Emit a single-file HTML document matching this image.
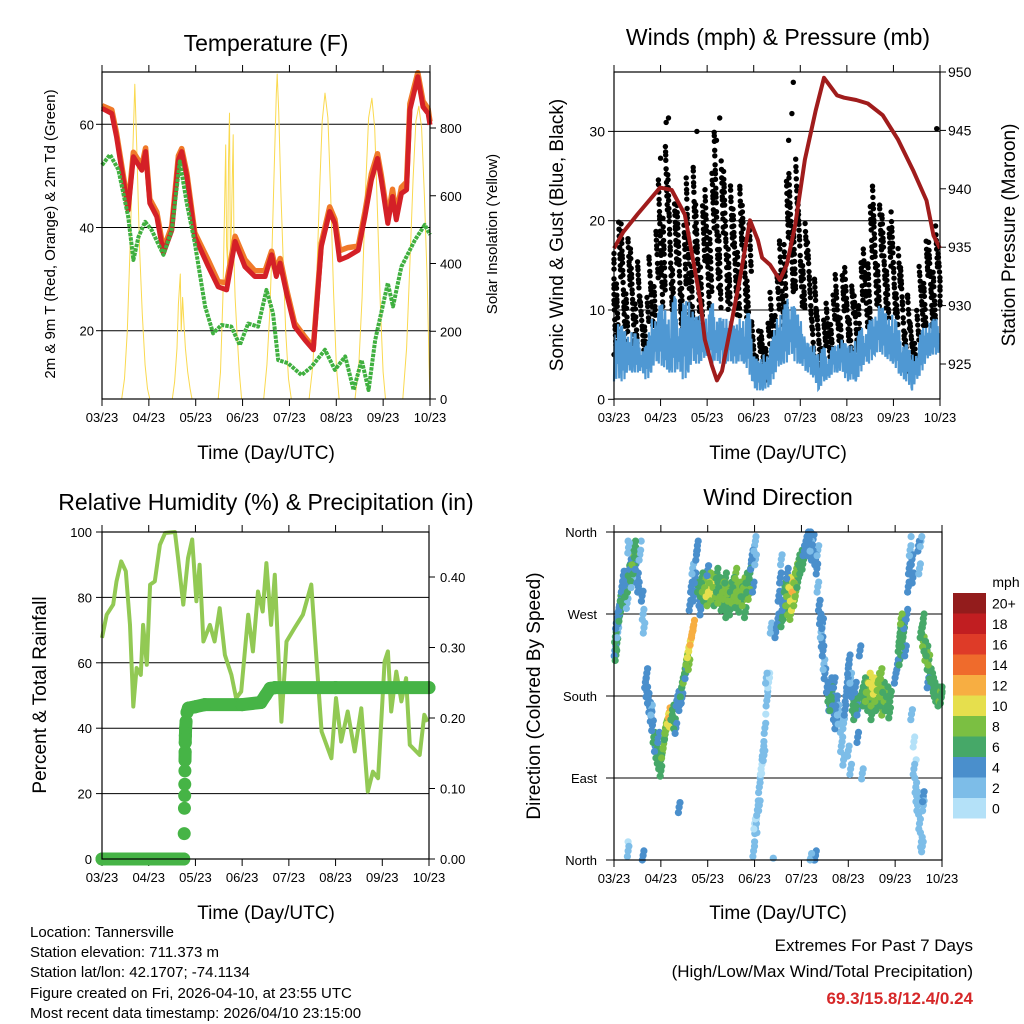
<!DOCTYPE html>
<html><head><meta charset="utf-8"><style>
html,body{margin:0;padding:0;background:#fff}
svg{display:block;font-family:"Liberation Sans",sans-serif}
</style></head><body>
<svg id="fig" width="1024" height="1024" viewBox="0 0 1024 1024" xmlns="http://www.w3.org/2000/svg">
<rect width="1024" height="1024" fill="#fff"/>
<text x="266" y="51" font-size="23" text-anchor="middle">Temperature (F)</text>
<text x="778" y="45" font-size="23" text-anchor="middle">Winds (mph) &amp; Pressure (mb)</text>
<text x="266" y="510" font-size="23" text-anchor="middle">Relative Humidity (%) &amp; Precipitation (in)</text>
<text x="778" y="505" font-size="23" text-anchor="middle">Wind Direction</text>
<text transform="translate(55,234) rotate(-90)" font-size="15" text-anchor="middle">2m &amp; 9m T (Red, Orange) &amp; 2m Td (Green)</text>
<text transform="translate(497,234) rotate(-90)" font-size="15" text-anchor="middle">Solar Insolation (Yellow)</text>
<text transform="translate(563,235) rotate(-90)" font-size="19" text-anchor="middle">Sonic Wind &amp; Gust (Blue, Black)</text>
<text transform="translate(1015,235) rotate(-90)" font-size="19" text-anchor="middle">Station Pressure (Maroon)</text>
<text transform="translate(46,695) rotate(-90)" font-size="19" text-anchor="middle">Percent &amp; Total Rainfall</text>
<text transform="translate(540,696) rotate(-90)" font-size="19" text-anchor="middle">Direction (Colored By Speed)</text>
<text x="266" y="459" font-size="19" text-anchor="middle">Time (Day/UTC)</text>
<text x="778" y="459" font-size="19" text-anchor="middle">Time (Day/UTC)</text>
<text x="266" y="919" font-size="19" text-anchor="middle">Time (Day/UTC)</text>
<text x="778" y="919" font-size="19" text-anchor="middle">Time (Day/UTC)</text>
<g font-size="15">
<text x="30" y="937">Location: Tannersville</text>
<text x="30" y="957">Station elevation: 711.373 m</text>
<text x="30" y="977">Station lat/lon: 42.1707; -74.1134</text>
<text x="30" y="998">Figure created on Fri, 2026-04-10, at 23:55 UTC</text>
<text x="30" y="1018">Most recent data timestamp: 2026/04/10 23:15:00</text>
</g>
<text x="973" y="951" font-size="17" text-anchor="end">Extremes For Past 7 Days</text>
<text x="973" y="977" font-size="17" text-anchor="end">(High/Low/Max Wind/Total Precipitation)</text>
<text x="973" y="1004" font-size="17" font-weight="bold" fill="#d62728" text-anchor="end">69.3/15.8/12.4/0.24</text>
<text x="1006" y="587" font-size="14" text-anchor="middle">mph</text>
</svg>
<script>
const xTickLabels=["03/23","04/23","05/23","06/23","07/23","08/23","09/23","10/23"];
const tempTimes=[0,0.21,0.31,0.42,0.56,0.67,0.85,0.93,1.02,1.17,1.31,1.49,1.63,1.70,1.81,1.98,2.27,2.48,2.66,2.84,3.05,3.26,3.48,3.62,3.72,3.80,3.94,4.11,4.33,4.51,4.68,4.86,4.97,5.07,5.25,5.47,5.61,5.75,5.88,5.96,6.10,6.20,6.28,6.39,6.50,6.57,6.74,6.85,6.96,7.0];
const temp9m=[63.1,62.1,57.6,51.2,43.4,53.7,51.1,54.7,44.7,42.1,35.0,39.5,53.1,54.7,49.9,38.2,32.4,28.5,27.9,37.3,32.4,30.5,30.5,34.7,30.5,33.1,27.2,20.8,18.2,16.3,36.3,43.1,40.8,33.7,34.4,35.6,42.1,49.2,53.4,49.2,40.8,46.0,41.5,46.6,47.3,62.8,69.2,63.4,62.1,59.9];
const temp2m=[63.6,62.8,58.3,52.0,44.2,54.6,52.0,55.4,45.5,43.0,35.8,40.3,53.9,55.3,50.6,39.0,33.6,29.5,29.3,38.3,33.8,31.6,31.6,35.4,31.5,34.0,28.0,21.5,18.8,16.8,37.0,44.0,41.6,35.5,36.1,36.4,43.0,50.4,54.3,50.1,41.8,47.4,42.4,47.8,48.8,64.0,70.0,64.5,63.0,60.5];
const dewTimes=[0,0.17,0.35,0.56,0.67,0.78,0.92,1.06,1.31,1.49,1.66,1.81,1.98,2.20,2.37,2.55,2.76,2.94,3.12,3.33,3.51,3.65,3.76,3.97,4.26,4.47,4.76,4.97,5.19,5.37,5.54,5.69,5.83,6.10,6.21,6.39,6.68,6.89,7.0];
const dewVals=[52.1,54.1,51.2,42.1,33.7,38.2,41.1,39.5,34.7,39.5,52.8,44.7,37.0,24.7,19.5,21.1,20.8,17.2,21.4,20.8,27.9,23.4,14.3,13.7,11.4,13.0,16.3,12.4,15.0,8.5,14.3,8.5,18.2,29.2,24.7,32.4,37.6,40.5,38.6];
const solarTimes=[0.42,0.48,0.54,0.6,0.65,0.7,0.74,0.8,0.86,0.92,0.97,1.02,
1.5,1.55,1.6,1.63,1.67,1.69,1.72,1.75,1.78,1.83,1.88,1.92,
2.48,2.53,2.58,2.62,2.64,2.66,2.68,2.7,2.72,2.74,2.76,2.78,2.8,2.82,2.84,2.88,2.93,2.98,
3.45,3.52,3.58,3.63,3.68,3.72,3.74,3.77,3.82,3.87,3.92,3.98,4.04,
4.42,4.5,4.57,4.64,4.7,4.76,4.82,4.88,4.94,5.0,5.06,
5.4,5.48,5.55,5.62,5.69,5.76,5.82,5.88,5.94,6.0,6.05,
6.42,6.5,6.57,6.64,6.7,6.76,6.82,6.88,6.94,6.98,7.0];
const solarVals=[0,60,200,450,700,929,750,450,250,100,30,0,
0,50,150,280,369,200,300,220,150,80,30,0,
0,80,300,600,750,450,400,700,844,400,500,650,780,400,300,200,80,0,
0,100,250,450,700,900,959,850,600,400,200,60,0,
0,100,300,600,820,903,830,600,320,100,0,
0,100,300,600,830,888,800,550,280,80,0,
0,150,400,650,820,864,800,600,350,100,0];
const windTicks=[0,10,20,30];
const pressTicks=[925,930,935,940,945,950];
const pressTimes=[0,0.2,0.5,0.99,1.24,1.52,1.74,1.85,1.95,2.1,2.21,2.32,2.49,2.7,2.92,3.09,3.18,3.35,3.56,3.71,3.89,4.1,4.33,4.51,4.79,4.94,5.2,5.45,5.77,6.1,6.42,6.71,6.86,7.0];
const pressVals=[934.9,936.3,937.8,940.1,939.9,937.8,933.0,930.5,927.1,924.9,923.6,924.4,927.9,932.2,937.3,935.6,934.1,933.5,932.2,933.5,936.9,942.5,946.7,949.5,948.0,947.8,947.6,947.3,946.3,944.2,941.6,939.0,936.0,934.9];
const gustMin=[5,6,5,7,5,6,5,5,7,8,10,12,10,8,8,5,6,7,8,9,10,12,12,10,10,10,9,9,9,8,2,2,2,3,4,6,8,10,12,12,10,10,8,4,3,3,4,5,5,5,6,5,4,5,8,9,10,10,10,9,9,8,5,3,3,3,8,8,8,9,10];
const gustMax=[17,20,20,18,17,16,12,12,16,19,25,29,26,22,22,20,25,26,22,22,24,26,30,27,26,24,22,24,22,20,9,8,8,9,12,14,18,25,26,27,22,20,18,14,10,9,11,12,14,14,15,13,12,16,17,22,24,22,21,20,21,17,15,12,9,10,15,18,18,20,17];
const gustOutT=[1.17,1.12,1.78,2.27,2.2,3.85,3.82,3.75,6.93,1.0];
const gustOutV=[31.5,31,30,31.5,29,35.5,32,29,30.3,27];
const sonicLo=[2,2,2,3,3,3,3,2,3,4,4,3,3,3,3,2,3,4,4,4,5,4,4,4,4,4,4,4,4,3,1,1,1,1,2,3,4,4,5,4,4,3,3,2,1,2,2,3,3,3,2,2,2,3,4,4,5,5,5,4,4,3,2,2,1,2,3,4,5,5,5];
const sonicHi=[7,9,8,7,8,7,6,6,9,9,11,10,9,12,9,11,11,10,9,10,9,11,10,9,9,9,8,9,9,10,6,4,5,5,7,9,10,11,12,10,9,7,6,6,5,6,5,6,6,7,6,6,7,8,8,9,9,11,10,9,10,8,7,6,5,5,8,8,9,9,9];
const rhTicks=[0,20,40,60,80,100];
const precipTicks=[0,0.1,0.2,0.3,0.4];
const rhTimes=[0,0.1,0.24,0.31,0.41,0.51,0.60,0.67,0.74,0.83,0.88,0.96,1.03,1.13,1.24,1.35,1.56,1.63,1.74,1.84,1.93,2.02,2.09,2.17,2.31,2.41,2.52,2.63,2.77,2.87,2.98,3.13,3.23,3.34,3.44,3.52,3.62,3.70,3.84,3.95,4.12,4.30,4.48,4.59,4.70,4.91,5.01,5.12,5.26,5.41,5.55,5.69,5.80,5.91,6.05,6.12,6.19,6.30,6.41,6.51,6.59,6.80,6.90,6.97];
const rhVals=[67.6,74.7,77.8,84.9,91.0,88.0,71.6,46.6,58.4,56.3,71.6,59.4,83.9,84.9,96.1,99.7,100,92,77.8,92.0,97.7,78.8,90.0,66.5,71.6,66.5,76.7,62.4,56.3,49.2,51.2,74.7,63.5,81.8,75.7,90.5,71.6,86.9,42.0,66.5,70.6,74.7,83.9,61.4,39.0,30.8,49.2,35.9,45.1,32.9,46.1,20.6,26.7,24.7,60.4,63.5,45.1,57.3,48.2,55.3,34.9,31.8,44.1,42.0];
const precipTimes=[0,0.5,1.0,1.5,1.75,1.76,1.765,1.77,1.772,1.775,1.777,1.78,1.782,1.785,1.79,1.80,1.82,1.85,2.0,2.2,3.0,3.4,3.5,3.6,3.7,5.0,7.0];
const precipVals=[0,0,0,0,0,0.036,0.072,0.09,0.106,0.125,0.14,0.152,0.165,0.175,0.185,0.195,0.208,0.214,0.216,0.219,0.219,0.222,0.232,0.242,0.243,0.243,0.243];
const dirLabels=["North","East","South","West","North"];
const speedBins=["0","2","4","6","8","10","12","14","16","18","20+"];
const windDirObs=[
[0.02,230,4],[0.03,245,6],[0.05,260,5],[0.06,238,7],[0.08,250,3],[0.1,265,5],[0.04,225,6],[0.09,272,4],[0.12,268,6],
[0.12,280,5],[0.15,290,6],[0.17,300,4],[0.2,285,7],[0.22,305,5],[0.25,295,6],[0.27,310,4],[0.3,300,7],[0.32,318,6],[0.35,325,5],[0.37,312,7],[0.4,330,8],[0.42,320,6],[0.45,338,7],[0.47,325,4],[0.5,310,5],[0.52,300,4],[0.55,335,3],[0.58,350,2],[0.6,290,4],[0.62,270,3],[0.64,255,2],[0.2,312,4],[0.28,282,3],[0.38,305,3],[0.44,345,6],[0.3,350,2],[0.31,343,2],[0.3,20,1],[0.3,10,2],[0.62,5,4],[1.39,58,4],
[0.67,195,4],[0.7,185,4],[0.73,178,4],[0.76,168,4],[0.79,158,4],[0.82,148,4],[0.85,135,6],[0.88,125,4],[0.91,118,6],[0.94,112,6],[0.97,106,7],[1.0,110,6],[1.03,118,8],[1.06,128,8],[1.09,138,7],[1.12,148,9],[1.15,155,10],[1.18,162,13],[1.2,152,10],[1.23,160,7],[1.26,165,6],[1.29,150,6],[1.32,145,5],[0.8,165,3],[0.95,135,5],[1.34,175,4],[0.7,205,4],[1.0,98,6],[1.1,145,8],
[1.37,180,4],[1.4,170,5],[1.43,185,6],[1.46,195,7],[1.49,200,8],[1.52,210,7],[1.55,220,8],[1.58,228,10],[1.61,235,11],[1.64,242,12],[1.67,250,13],[1.7,258,12],[1.45,178,4],[1.53,205,4],[1.6,215,8],
[1.62,280,4],[1.65,300,4],[1.68,320,3],[1.7,290,4],[1.73,310,5],[1.76,335,4],[1.78,345,4],[1.8,300,6],[1.83,285,5],[1.86,295,7],[1.88,310,6],[1.9,300,8],[1.93,290,7],[1.95,305,9],[1.98,295,10],[2.0,285,8],[2.03,300,10],[2.05,310,9],[2.08,290,8],[2.1,298,11],[2.13,305,8],[2.15,285,7],[2.18,295,9],[2.2,300,7],[2.23,288,8],[2.25,305,6],[2.28,295,8],[2.3,280,7],[2.33,300,9],[2.35,292,8],[2.38,310,7],[2.4,285,6],[2.43,298,8],[2.45,290,9],[2.48,275,6],[2.5,300,7],[2.53,288,8],[2.55,305,7],[2.58,295,8],[2.6,283,7],[2.63,300,9],[2.65,290,8],[2.68,278,7],[2.7,300,8],[2.73,295,7],[2.75,285,8],[2.78,305,9],[2.8,295,7],[2.83,310,6],[2.85,300,7],[2.88,292,8],[2.9,315,6],[2.93,325,4],[2.95,335,4],[2.97,300,4],[1.85,275,4],[2.0,318,5],[2.2,315,6],[2.4,272,6],[2.6,315,8],[2.8,272,6],
[2.98,10,2],[3.0,20,2],[3.02,35,2],[3.04,45,1],[3.06,55,2],[3.08,65,2],[3.1,80,2],[3.12,90,2],[3.14,100,1],[3.16,110,2],[3.18,120,2],[3.2,130,2],[3.22,145,2],[3.24,160,1],[3.26,175,2],[3.28,185,2],[3.3,195,1],[3.32,205,1],[3.0,40,1],[3.05,30,2],[3.1,60,2],[3.15,95,1],[3.2,115,2],[3.03,355,2],[3.0,345,2],[3.02,330,3],[3.25,200,2],[3.4,2,2],[3.35,255,2],
[3.45,250,4],[3.5,265,4],[3.52,290,4],[3.55,310,4],[3.57,330,3],[3.6,280,5],[3.62,270,6],[3.65,300,7],[3.68,285,8],[3.7,295,9],[3.72,275,8],[3.75,305,10],[3.78,290,11],[3.8,280,10],[3.82,300,12],[3.85,310,9],[3.88,295,8],[3.9,320,8],[3.92,305,7],[3.95,330,7],[3.98,320,6],[4.0,335,7],[4.03,325,6],[4.05,340,5],[4.08,345,4],[4.1,350,4],[4.13,355,4],[4.15,340,4],[4.18,358,4],[4.2,345,3],[4.23,335,4],[4.25,352,4],[3.58,262,6],[3.7,315,4],[3.77,270,8],[3.85,285,9],
[4.3,330,4],[4.33,320,4],[4.35,300,3],[4.38,280,4],[4.4,265,4],[4.42,250,3],[4.44,240,4],[4.46,230,4],[4.48,215,3],[4.5,205,4],[4.35,340,3],[4.45,260,4],[4.3,5,4],[4.28,0,4],[4.2,2,3],
[4.55,190,4],[4.58,180,6],[4.6,170,4],[4.63,195,5],[4.65,185,6],[4.68,175,4],[4.7,160,4],[4.73,150,4],[4.75,175,4],[4.78,165,3],[4.8,155,3],[4.83,140,2],[4.85,125,2],[4.88,135,2],[4.9,150,3],[4.93,165,4],[4.95,180,4],[4.98,195,4],[5.0,210,4],[5.02,220,4],[5.05,200,3],[5.08,185,4],[5.1,170,6],[5.13,160,6],[5.15,190,5],[5.18,175,6],[5.2,165,4],[5.0,120,3],[5.05,100,2],[4.9,110,3],[5.3,95,2],[5.2,135,4],[5.25,230,4],[4.62,170,7],[4.7,195,5],
[5.3,185,6],[5.33,175,7],[5.35,195,6],[5.38,180,9],[5.4,190,8],[5.43,170,7],[5.45,200,10],[5.48,185,9],[5.5,175,8],[5.53,195,11],[5.55,188,10],[5.58,180,9],[5.6,170,7],[5.63,192,8],[5.65,200,9],[5.68,185,8],[5.7,175,7],[5.73,165,8],[5.75,190,7],[5.78,180,8],[5.8,170,6],[5.83,185,7],[5.85,175,6],[5.88,162,6],[5.9,180,6],[5.5,160,6],[5.7,205,9],
[6.0,200,4],[6.05,215,5],[6.08,235,6],[6.1,245,7],[6.12,255,6],[6.15,240,7],[6.18,250,6],[6.2,260,5],[6.13,265,8],[6.1,220,6],[6.25,270,4],[6.22,230,4],
[6.28,300,4],[6.3,320,4],[6.32,340,3],[6.34,355,2],[6.36,330,4],[6.38,310,4],[6.4,100,2],[6.42,90,2],[6.44,80,2],[6.46,70,3],[6.48,60,2],[6.5,50,2],[6.52,40,3],[6.54,30,2],[6.56,20,2],[6.58,15,3],[6.6,60,2],[6.45,110,1],[6.4,130,1],[6.5,345,4],[6.55,350,3],[6.52,320,3],[6.35,160,2],[6.6,70,4],
[6.55,250,6],[6.58,255,7],[6.6,240,8],[6.63,235,7],[6.65,225,8],[6.68,230,6],[6.7,215,7],[6.72,220,8],[6.75,205,6],[6.78,200,7],[6.8,195,6],[6.83,190,7],[6.85,185,6],[6.88,180,7],[6.9,185,6],[6.93,175,7],[6.95,180,8],[6.98,178,7],[7.0,185,6],[6.6,265,6],[6.7,195,5]
];
const speedColors=["#b4e1f8","#7dbde8","#4a8fcc","#46a868","#7bbf42","#e6df4d","#f7ae42","#ef6b2c","#de3b28","#c11e21","#931c1c"];

const NS="http://www.w3.org/2000/svg";
const svg=document.getElementById('fig');
function mk(tag,attrs,parent){const e=document.createElementNS(NS,tag);for(const k in attrs)e.setAttribute(k,attrs[k]);(parent||svg).appendChild(e);return e;}
function lin(d0,d1,r0,r1){return v=>r0+(v-d0)*(r1-r0)/(d1-d0);}
function pts(ts,vs,sx,sy){return ts.map((t,i)=>sx(t).toFixed(1)+","+sy(vs[i]).toFixed(1)).join(" ");}

function frame(name,x0,x1,y0,y1){
  const g=mk('g',{});
  
  
  const sx=lin(0,7,x0,x1);
  xTickLabels.forEach((lab,i)=>{
    const x=sx(i);
    mk('line',{x1:x,x2:x,y1:y0-7,y2:y0,stroke:'#000','stroke-width':1},g);
    mk('line',{x1:x,x2:x,y1:y1,y2:y1+7,stroke:'#000','stroke-width':1},g);
    const t=mk('text',{x:x,y:y1+23,'font-size':13,'text-anchor':'middle'},g);
    t.textContent=lab;
    
    
  });
  return {g,sx};
}
function border(x0,x1,y0,y1,name){
  const r=mk('rect',{x:x0,y:y0,width:x1-x0,height:y1-y0,fill:'none',stroke:'#000','stroke-width':1.2});
  
  
}
function hgrid(g,x0,x1,y){mk('line',{x1:x0,x2:x1,y1:y,y2:y,stroke:'#000','stroke-width':1},g);}
function label(g,x,y,txt,anchor,size,name){const t=mk('text',{x:x,y:y,'font-size':size||13,'text-anchor':anchor},g);t.textContent=txt;
  
  return t;}

// ---------- Panel 1: Temperature ----------
(function(){
  const x0=102,x1=430,y0=72,y1=399;
  const {g,sx}=frame('temperature',x0,x1,y0,y1);
  const sy=lin(20,60,330.7,124.3);
  const ss=lin(0,800,399,128);
  [20,40,60].forEach(v=>{hgrid(g,x0,x1,sy(v));mk('line',{x1:x0-6,x2:x0,y1:sy(v),y2:sy(v),stroke:'#000'},g);label(g,x0-8,sy(v)+5,String(v),'end',13,'temp-tick-label');});
  [0,200,400,600,800].forEach(v=>{mk('line',{x1:x1,x2:x1+6,y1:ss(v),y2:ss(v),stroke:'#000'},g);label(g,x1+10,ss(v)+5,String(v),'start',13,'solar-tick-label');});
  const s=mk('polyline',{points:pts(solarTimes,solarVals,sx,ss),fill:'none',stroke:'#fad94f','stroke-width':1,'stroke-linejoin':'round'});
  
  
  const o=mk('polyline',{points:pts(tempTimes,temp2m,sx,sy),fill:'none',stroke:'#f07a2a','stroke-width':5.5,'stroke-linejoin':'round'});
  
  
  const r=mk('polyline',{points:pts(tempTimes,temp9m,sx,sy),fill:'none',stroke:'#d42027','stroke-width':5,'stroke-linejoin':'round'});
  
  
  const d=mk('polyline',{points:pts(dewTimes,dewVals,sx,sy),fill:'none',stroke:'#40b040','stroke-width':4,'stroke-dasharray':'3.5 1','stroke-linejoin':'round'});
  
  
  border(x0,x1,y0,y1,'temperature');
})();

// ---------- Panel 2: Winds ----------
(function(){
  const x0=614,x1=940,y0=72,y1=399;
  const {g,sx}=frame('winds',x0,x1,y0,y1);
  const sy=lin(0,10,399.3,310);
  const sp=lin(925,950,364,72);
  windTicks.forEach(v=>{if(v>0)hgrid(g,x0,x1,sy(v));mk('line',{x1:x0-6,x2:x0,y1:sy(v),y2:sy(v),stroke:'#000'},g);label(g,x0-9,sy(v)+5,String(v),'end',14,'wind-tick-label');});
  pressTicks.forEach(v=>{mk('line',{x1:x1,x2:x1+6,y1:sp(v),y2:sp(v),stroke:'#000'},g);label(g,x1+8,sp(v)+5,String(v),'start',14,'pressure-tick-label');});
  const gg=mk('g',{fill:'#000'});
  
  
  gustMin.forEach((mn,i)=>{
    const mx=gustMax[i];const n=Math.round((mx-mn)/0.8)+4;
    for(let k=0;k<n;k++){
      const f=(k*0.6180339+i*0.37)%1;
      const v=mn+(mx-mn)*f;
      const t=Math.min(7,Math.max(0,i*0.1+(((k*0.381966+i*0.13)%1)-0.5)*0.1));
      mk('circle',{cx:sx(t).toFixed(1),cy:sy(v).toFixed(1),r:2.7},gg);
    }
  });
  gustOutT.forEach((t,i)=>mk('circle',{cx:sx(t),cy:sy(gustOutV[i]),r:2.7},gg));
  const amp=[0,1,0.2,0.8,0.05,0.6,0.3,0.95];
  const sp2=[];
  for(let i=0;i<sonicLo.length-1;i++){
    for(let j=0;j<8;j++){
      const f=j/8;const t=(i+f)*0.1;
      const lo=sonicLo[i]+(sonicLo[i+1]-sonicLo[i])*f;const hi=sonicHi[i]+(sonicHi[i+1]-sonicHi[i])*f;
      const a=amp[(j+i*3)%8];
      sp2.push(sx(t).toFixed(1)+","+sy(lo+(hi-lo)*a).toFixed(1));
    }
  }
  const b=mk('polyline',{points:sp2.join(" "),fill:'none',stroke:'#4f98d3','stroke-width':2.2});
  
  
  const p=mk('polyline',{points:pts(pressTimes,pressVals,sx,sp),fill:'none',stroke:'#a01c1c','stroke-width':4,'stroke-linejoin':'round'});
  
  
  border(x0,x1,y0,y1,'winds');
})();

// ---------- Panel 3: RH & Precip ----------
(function(){
  const x0=102,x1=429,y0=532,y1=859;
  const {g,sx}=frame('humidity',x0,x1,y0,y1);
  const sy=lin(0,100,859,532);
  const sp=lin(0,0.4,859,577);
  rhTicks.forEach(v=>{if(v>0&&v<100)hgrid(g,x0,x1,sy(v));mk('line',{x1:x0-6,x2:x0,y1:sy(v),y2:sy(v),stroke:'#000'},g);label(g,x0-10,sy(v)+5,String(v),'end',13,'rh-tick-label');});
  precipTicks.forEach(v=>{mk('line',{x1:x1,x2:x1+6,y1:sp(v),y2:sp(v),stroke:'#000'},g);label(g,x1+11,sp(v)+5,v.toFixed(2),'start',13,'precip-tick-label');});
  const r=mk('polyline',{points:pts(rhTimes,rhVals,sx,sy),fill:'none',stroke:'#92c954','stroke-width':4,'stroke-linejoin':'round'});
  
  
  const pg=mk('g',{fill:'#46b446',stroke:'#46b446'});
  
  
  for(let i=0;i<precipTimes.length-1;i++){
    if(Math.abs(precipVals[i+1]-precipVals[i])<0.012)
      mk('line',{x1:sx(precipTimes[i]),y1:sp(precipVals[i]),x2:sx(precipTimes[i+1]),y2:sp(precipVals[i+1]),'stroke-width':13,'stroke-linecap':'round'},pg);
  }
  precipTimes.forEach((t,i)=>mk('circle',{cx:sx(t),cy:sp(precipVals[i]),r:6.5,stroke:'none'},pg));
  border(x0,x1,y0,y1,'humidity');
})();

// ---------- Panel 4: Wind direction ----------
(function(){
  const x0=614,x1=942,y0=532,y1=860;
  const {g,sx}=frame('direction',x0,x1,y0,y1);
  const sy=lin(0,360,860,532);
  dirLabels.forEach((lab,i)=>{const v=i*90;if(i>0&&i<4)hgrid(g,x0,x1,sy(v));label(g,x0-17,sy(v)+5,lab,'end',13,'direction-tick-label');mk('line',{x1:x0-8,x2:x0,y1:sy(v),y2:sy(v),stroke:'#000'},g);});
  const dg=mk('g',{});
  
  
  const offs=[[0,0],[0.018,5],[-0.015,-6]];
  offs.forEach(([dt,dd],oi)=>{
    windDirObs.forEach((o,k)=>{
      if(oi>0 && o[2]<3 && k%2) return;
      const idx=Math.min(10,Math.floor(o[2]/2));
      const t=Math.max(0,Math.min(7,o[0]+dt));
      const dv=Math.max(0,Math.min(360,o[1]+dd));
      mk('circle',{cx:sx(t).toFixed(1),cy:sy(dv).toFixed(1),r:3.6,fill:speedColors[idx]},dg);
    });
  });
  border(x0,x1,y0,y1,'direction');
  const cb=mk('g',{});
  
  
  const top=593,h=20.5;
  speedBins.slice().reverse().forEach((lab,k)=>{
    const col=speedColors[10-k];
    mk('rect',{x:953,y:top+k*h,width:33,height:h,fill:col},cb);
    label(cb,992,top+k*h+h/2+5,lab,'start',14,'colorbar-label');
  });
})();
</script>
</body></html>
